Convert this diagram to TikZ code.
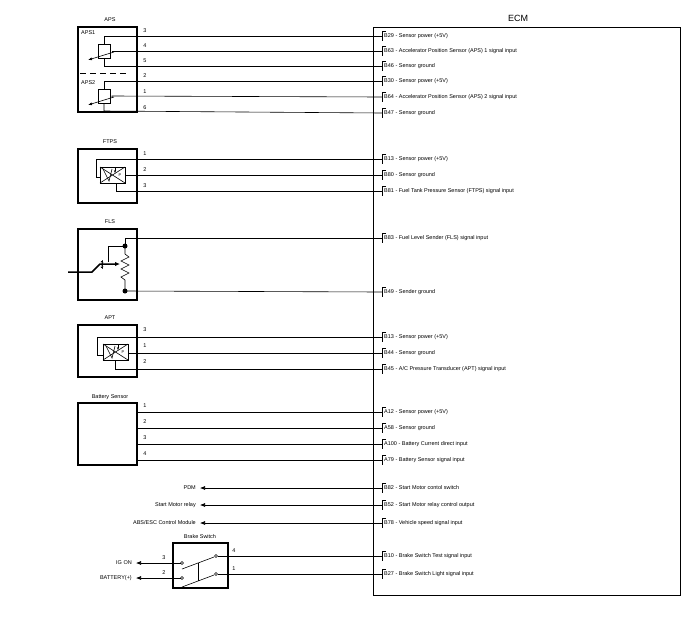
\documentclass[tikz,border=0pt]{standalone}
\usepackage{fontspec}
\setmainfont{Liberation Sans}
\usetikzlibrary{arrows.meta}
\begin{document}
\begin{tikzpicture}[x=1pt,y=-1pt,
 wire/.style={line width=0.6pt},
 box/.style={draw,line width=1.2pt},
 lbl/.style={font=\fontsize{5.5}{6}\selectfont,inner sep=1pt},
 pinno/.style={font=\fontsize{5.5}{6}\selectfont,inner sep=0pt},
 outwire/.style={wire,-{Latex[length=5pt,width=4pt]}}]
\useasboundingbox (0,0) rectangle (700,619);
\draw[line width=0.6pt] (373,27) rectangle (680,595);
\node[font=\fontsize{9}{10}\selectfont] (ecm) at (518,18) {ECM};
\newcommand\ecmpin[3]{%
 \coordinate (#1) at (382,#2);
 \draw[line width=0.5pt] (386,#2-5) -- (382,#2-5) -- (382,#2+5);
 \node[lbl,anchor=west] at (383,#2) {#3};}
\foreach \n/\y/\t in {p1/36/B29 - Sensor power (+5V),
 p2/51/B63 - Accelerator Position Sensor (APS) 1 signal input,
 p3/66/B46 - Sensor ground, p4/81/B30 - Sensor power (+5V),
 p5/97/B64 - Accelerator Position Sensor (APS) 2 signal input,
 p6/113/B47 - Sensor ground,
 p7/159/B13 - Sensor power (+5V), p8/175/B80 - Sensor ground,
 p9/191/B81 - Fuel Tank Pressure Sensor (FTPS) signal input,
 p10/238/B83 - Fuel Level Sender (FLS) signal input,
 p11/292/B49 - Sender ground,
 p12/337/B13 - Sensor power (+5V), p13/353/B44 - Sensor ground,
 p14/369/{B45 - A/C Pressure Transducer (APT) signal input},
 p15/412/A12 - Sensor power (+5V), p16/428/A58 - Sensor ground,
 p17/444/A100 - Battery Current direct input,
 p18/460/A79 - Battery Sensor signal input,
 p19/488/B82 - Start Motor contol switch,
 p20/505/B52 - Start Motor relay control output,
 p21/523/B78 - Vehicle speed signal input,
 p22/556/B10 - Brake Switch Test signal input,
 p23/574/B27 - Brake Switch Light signal input}{\ecmpin{\n}{\y}{\t}}
% ---------- APS
\draw[box] (78,27) rectangle (137,112);
\node[lbl] (aps) at (110,20) {APS};
\node[lbl,anchor=west] (aps1) at (80,33) {APS1};
\node[lbl,anchor=west] (aps2) at (80,83) {APS2};
\draw[dash pattern=on 6pt off 4pt,line width=0.6pt] (80,73) -- (128,73);
\foreach \o/\a/\b/\c in {0/1/2/3, 45/4/5/6}{
 \draw[wire] (98,44+\o) rectangle (110,58+\o);
 \draw[wire] (p\a) -- (104,36+\o) -- (104,44+\o);
 \draw[wire] (p\c) -- (104,66+\o) -- (104,58+\o);
 \draw[wire] (p\b) -- (112,51+\o) -- (112,52+\o);
 \draw[wire,-{Latex[length=4pt,width=3pt]}] (114,52+\o) -- (88,60+\o);
}
\foreach \y/\t in {31/3,46/4,61/5,76/2,92/1,108/6}{\node[pinno] at (145,\y) {\t};}
% ---------- FTPS
\draw[box] (78,149) rectangle (137,203);
\node[lbl] (ftps) at (110,142) {FTPS};
\newcommand\psym[2]{%
 \draw[wire] (#1,#2) rectangle ++(25,16);
 \draw[wire] (#1,#2) -- ++(25,16) (#1,#2+16) -- ++(25,-16);
 \draw[wire] (#1+3,#2+2) -- (#1+9,#2+14) -- (#1+12,#2+2);
 \draw[wire,-{Stealth[length=3pt]}] (#1+15,#2) -- ++(0,6);
 \node[font=\fontsize{4}{4}\selectfont,inner sep=0] at (#1+20,#2+8) {P};}
\psym{100}{167}
\draw[wire] (p7) -- (96,159) -- (96,177) -- (100,177);
\draw[wire] (p8) -- (125,175);
\draw[wire] (p9) -- (116,191) -- (116,183);
\foreach \y/\t in {154/1,170/2,186/3}{\node[pinno] at (145,\y) {\t};}
% ---------- FLS
\draw[box] (78,229) rectangle (137,300);
\node[lbl] (fls) at (110,222) {FLS};
\fill (125,246) circle (2.5pt) (125,291) circle (2.5pt);
\draw[wire] (p10) -- (125,238) -- (125,246);
\draw[wire] (p11) -- (125,291);
\draw[wire] (125,246) -- (125,254) -- (129,257) -- (121,261) -- (129,265) -- (121,269) -- (129,273) -- (121,277) -- (125,280) -- (125,291);
\draw[wire] (125,246) -- (108,246) -- (108,262);
\draw[line width=1.5pt,-{Latex[length=5pt,width=4.5pt]}] (68,272) -- (92,272) -- (100,264) -- (120,264);
\draw[wire,-{Stealth[length=3pt]}] (103,262) arc[start angle=210,end angle=150,radius=7];
\draw[wire,-{Stealth[length=3pt]}] (103,267) arc[start angle=150,end angle=210,radius=7];
% ---------- APT
\draw[box] (78,325) rectangle (137,377);
\node[lbl] (apt) at (110,318) {APT};
\psym{103}{344}
\draw[wire] (p12) -- (97,337) -- (97,355) -- (103,355);
\draw[wire] (p13) -- (128,353);
\draw[wire] (p14) -- (115,369) -- (115,360);
\foreach \y/\t in {330/3,346/1,362/2}{\node[pinno] at (145,\y) {\t};}
% ---------- Battery sensor
\draw[box] (78,403) rectangle (137,465);
\node[lbl] (bs) at (110,397) {Battery Sensor};
\foreach \p/\y/\t in {p15/412/1,p16/428/2,p17/444/3,p18/460/4}{
 \draw[wire] (\p) -- (137,\y); \node[pinno] at (145,\y-6) {\t};}
% ---------- outputs
\node[lbl,anchor=east] (pdm) at (197,488) {PDM};
\node[lbl,anchor=east] (smr) at (197,505) {Start Motor relay};
\node[lbl,anchor=east] (abs) at (197,523) {ABS/ESC Control Module};
\draw[outwire] (p19) -- (200,488);
\draw[outwire] (p20) -- (200,505);
\draw[outwire] (p21) -- (200,523);
% ---------- Brake switch
\draw[box] (173,543) rectangle (228,588);
\node[lbl] (brk) at (200,537) {Brake Switch};
\foreach \p in {(182,563),(182,578),(216,556),(216,574)}{\draw[line width=0.5pt,fill=white] \p circle (1.5pt);}
\draw[wire] (182,569) -- (214,557);
\draw[wire] (182,587) -- (214,575);
\draw[wire] (198,563) -- (198,581);
\draw[wire] (p22) -- (217.5,556);
\draw[wire] (p23) -- (217.5,574);
\node[pinno] at (234,551) {4};
\node[pinno] at (234,569) {1};
\node[lbl,anchor=east] (ig) at (133,563) {IG ON};
\node[lbl,anchor=east] (bat) at (133,578) {BATTERY(+)};
\draw[outwire] (180.5,563) -- (136,563);
\draw[outwire] (180.5,578) -- (136,578);
\node[pinno] at (164,558) {3};
\node[pinno] at (164,573) {2};
\end{tikzpicture}
\end{document}
